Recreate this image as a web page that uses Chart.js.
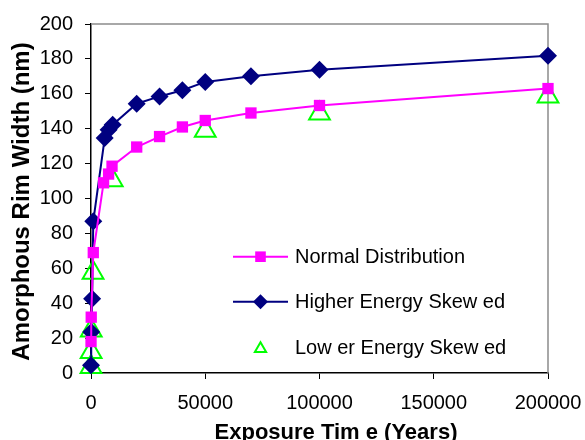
<!DOCTYPE html>
<html>
<head>
<meta charset="utf-8">
<script src="https://cdn.jsdelivr.net/npm/chart.js@4"></script>
<style>
  body { margin: 0; background: #fff; }
  #wrap { width: 585px; height: 440px; position: relative; }
</style>
</head>
<body>
<div id="wrap"><canvas id="rimChart"></canvas></div>
<script>
// values
const timeNormal = [10, 100, 1000, 5500, 7700, 9200, 20000, 30000, 40000, 50000, 70000, 100000, 200000];
const normalWidth = [18, 32, 69, 109, 114, 118.5, 129.5, 135.5, 141, 144.7, 149, 153.3, 163];

const timeHigher = [10, 100, 500, 1000, 6000, 7700, 9500, 20000, 30000, 40000, 50000, 70000, 100000, 200000];
const higherWidth = [4.5, 23.5, 42.5, 87, 134.6, 139.4, 142.3, 154.3, 158.5, 162, 166.8, 170, 173.8, 181.8];

const timeLower = [10, 50, 100, 900, 9300, 50000, 100000, 200000];
const lowerWidth = [3.4, 12, 24.3, 57.4, 110.4, 138.8, 148.7, 158.5];

const seriesNames = ['Normal Distribution', 'Higher Energy Skew ed', 'Low er Energy Skew ed'];
const yTitle = 'Amorphous Rim Width (nm)';
const xTitle = 'Exposure Tim e (Years)';

const FONT = "'Liberation Sans', Arial, sans-serif";

function pts(xs, ys) {
  return xs.map((x, i) => ({ x: x, y: ys[i] }));
}

// gray frame on top and right of the plot area
const frame = {
  id: 'frame',
  beforeDatasetsDraw(chart) {
    const a = chart.chartArea, ctx = chart.ctx;
    ctx.save();
    ctx.strokeStyle = '#8c8c8c';
    ctx.lineWidth = 1.5;
    ctx.beginPath();
    ctx.moveTo(a.left, a.top);
    ctx.lineTo(a.right, a.top);
    ctx.lineTo(a.right, a.bottom);
    ctx.stroke();
    ctx.restore();
  }
};

function marker(ctx, style, x, y, r) {
  ctx.beginPath();
  if (style === 'rect') {
    const s = r * Math.SQRT1_2;
    ctx.rect(x - s, y - s, 2 * s, 2 * s);
    ctx.fill();
  } else if (style === 'rectRot') {
    ctx.moveTo(x - r, y); ctx.lineTo(x, y - r); ctx.lineTo(x + r, y); ctx.lineTo(x, y + r);
    ctx.closePath();
    ctx.fill();
  } else {
    ctx.moveTo(x, y - r);
    ctx.lineTo(x + Math.sin(2 * Math.PI / 3) * r, y + r / 2);
    ctx.lineTo(x - Math.sin(2 * Math.PI / 3) * r, y + r / 2);
    ctx.closePath();
    ctx.stroke();
  }
}

// legend and axis titles drawn by hand so they sit where the original has them
const annotate = {
  id: 'annotate',
  afterDraw(chart) {
    const ctx = chart.ctx;
    ctx.save();
    const rows = [256.7, 301.7, 347.3];
    chart.data.datasets.forEach((ds, i) => {
      const y = rows[i];
      ctx.strokeStyle = ds.borderColor;
      ctx.fillStyle = ds.pointBackgroundColor;
      if (ds.showLine) {
        ctx.lineWidth = 2;
        ctx.beginPath();
        ctx.moveTo(233, y);
        ctx.lineTo(288, y);
        ctx.stroke();
      }
      ctx.lineWidth = 2;
      marker(ctx, ds.pointStyle, 260.5, y + (ds.pointStyle === 'triangle' ? 1.5 : 0), ds.pointStyle === 'triangle' ? 6.5 : 7.5);
      ctx.fillStyle = '#000';
      ctx.font = '20px ' + FONT;
      ctx.textAlign = 'left';
      ctx.textBaseline = 'middle';
      ctx.fillText(ds.label, 295, y + 1);
    });

    ctx.fillStyle = '#000';
    ctx.font = 'bold 22px ' + FONT;
    ctx.textAlign = 'center';
    ctx.textBaseline = 'alphabetic';
    ctx.fillText(xTitle, 336, 439);

    ctx.translate(29, 201.5);
    ctx.rotate(-Math.PI / 2);
    ctx.font = 'bold 24px ' + FONT;
    ctx.fillText(yTitle, 0, 0);
    ctx.restore();
  }
};

new Chart(document.getElementById('rimChart'), {
  type: 'scatter',
  data: {
    datasets: [{
      label: seriesNames[0],
      data: pts(timeNormal, normalWidth),
      showLine: true,
      borderColor: '#ff00ff',
      borderWidth: 2,
      pointStyle: 'rect',
      pointRadius: 8,
      pointBackgroundColor: '#ff00ff',
      pointBorderColor: '#ff00ff',
      pointBorderWidth: 0,
      clip: false
    }, {
      label: seriesNames[1],
      data: pts(timeHigher, higherWidth),
      showLine: true,
      borderColor: '#000080',
      borderWidth: 2,
      pointStyle: 'rectRot',
      pointRadius: 9,
      pointBackgroundColor: '#000080',
      pointBorderColor: '#000080',
      pointBorderWidth: 0,
      clip: false
    }, {
      label: seriesNames[2],
      data: pts(timeLower, lowerWidth),
      showLine: false,
      borderColor: '#00ff00',
      pointStyle: 'triangle',
      pointRadius: 12,
      pointBackgroundColor: 'rgba(0,0,0,0)',
      pointBorderColor: '#00ff00',
      pointBorderWidth: 2,
      clip: false
    }]
  },
  options: {
    responsive: true,
    maintainAspectRatio: false,
    animation: false,
    layout: { padding: { top: 21, right: 37, left: 0, bottom: 0 } },
    plugins: {
      legend: { display: false },
      tooltip: { enabled: false }
    },
    scales: {
      x: {
        type: 'linear',
        min: 0,
        max: 200000,
        afterFit(scale) {
          scale.height = 67;
          scale.paddingLeft = 0;
          scale.paddingRight = 0;
        },
        border: { color: '#000', width: 1.5 },
        grid: { drawOnChartArea: false, drawTicks: true, tickLength: 6, color: '#000' },
        ticks: { stepSize: 50000, color: '#000', padding: 12, maxRotation: 0,
                 callback: v => String(v),
                 font: { family: FONT, size: 20 } }
      },
      y: {
        min: 0,
        max: 200,
        afterFit(scale) { scale.width = 91; },
        border: { color: '#000', width: 1.5 },
        grid: { drawOnChartArea: false, drawTicks: true, tickLength: 6, color: '#000' },
        ticks: { stepSize: 20, color: '#000', padding: 12,
                 font: { family: FONT, size: 20 } }
      }
    }
  },
  plugins: [frame, annotate]
});
</script>
</body>
</html>
